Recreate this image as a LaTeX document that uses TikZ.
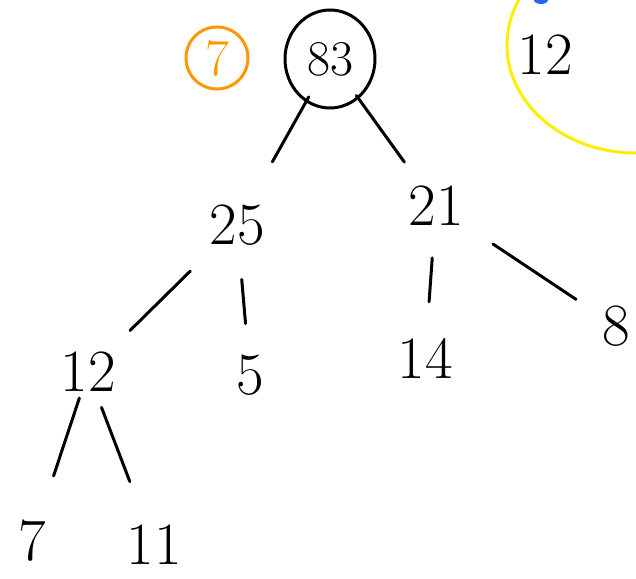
\documentclass[tikz,border=0pt]{standalone}
\usepackage{tikz}
\usetikzlibrary{shapes.geometric, positioning}
\definecolor{penorange}{RGB}{255,152,0}
\definecolor{penyellow}{RGB}{255,238,0}
\definecolor{penblue}{RGB}{40,100,255}
\tikzstyle{num} = [font=\fontsize{60}{60}\selectfont, inner sep=6pt]
\tikzstyle{rootnum} = [font=\fontsize{50}{50}\selectfont, ellipse, draw=black, line width=3pt, minimum width=90pt, minimum height=98pt]
\tikzstyle{tagnum} = [font=\fontsize{52}{52}\selectfont, circle, draw=penorange, text=penorange, line width=3pt, minimum size=62pt, inner sep=0pt]
\tikzstyle{edge} = [line width=3pt, line cap=round]

\begin{document}
\begin{tikzpicture}[x=1pt, y=-1pt]
    \clip (0,0) rectangle (636,578);

    % marks in the corners
    \draw [penyellow, line width=3pt] (636,45) ellipse [x radius=129, y radius=108];
    \fill [penblue] (541,0) ellipse [x radius=7, y radius=4];
    \node (topnum) [num] at (545,55) {12};
    \node (tag) [tagnum] at (217,58) {7};

    % the tree
    \node (root) [rootnum] at (330,59) {83};
    \node (n25) [num] at (237,225) {25};
    \node (n21) [num] at (436,206) {21};
    \node (n12) [num] at (88,372) {12};
    \node (n5) [num] at (250,375) {5};
    \node (n14) [num] at (425,358) {14};
    \node (n8) [num] at (616,326) {8};
    \node (n7) [num] at (32,541) {7};
    \node (n11) [num] at (154,545) {11};

    \draw [edge, shorten <=-6pt, shorten >=42pt] (root) -- (n25);
    \draw [edge, shorten <=-4pt, shorten >=22pt] (root) -- (n21);
    \draw [edge, shorten <=28pt, shorten >=22pt] (n25) -- (n12);
    \draw [edge, shorten <=28pt, shorten >=25pt] (n25) -- (n5);
    \draw [edge, shorten <=26pt, shorten >=30pt] (n21) -- (n14);
    \draw [edge, shorten <=28pt, shorten >=24pt] (n21) -- (n8);
    \draw [edge, shorten <=0pt, shorten >=40pt] (n12) -- (n7);
    \draw [edge, shorten <=10pt, shorten >=40pt] (n12) -- (n11);

\end{tikzpicture}
\end{document}
